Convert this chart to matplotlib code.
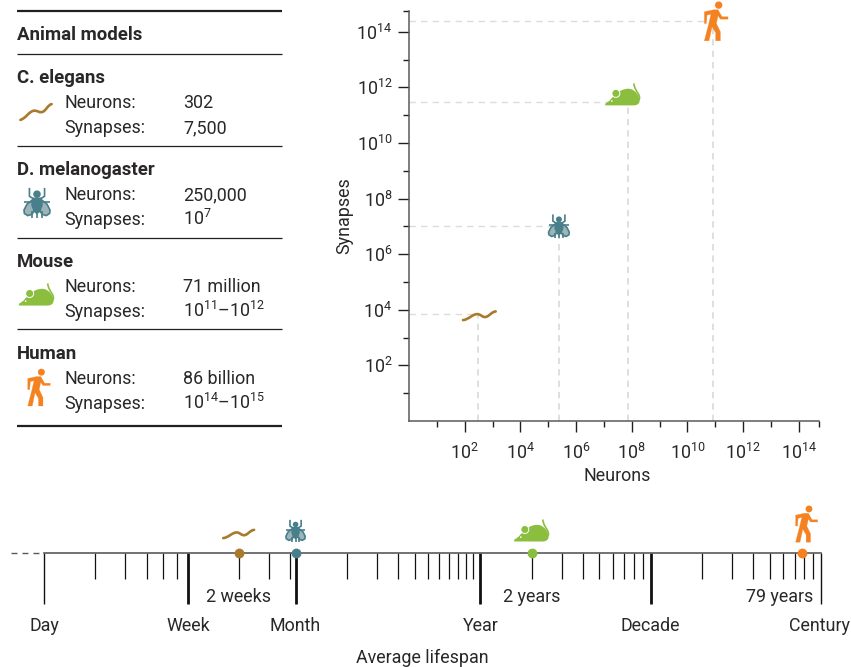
import numpy as np
import matplotlib
matplotlib.use("Agg")
import matplotlib.pyplot as plt
from matplotlib.path import Path
from matplotlib.patches import PathPatch, Circle, Polygon
from matplotlib.transforms import Affine2D, ScaledTranslation

FONT = 'Roboto'
plt.rcParams['font.family'] = [FONT, 'Liberation Sans', 'DejaVu Sans']
plt.rcParams['mathtext.fontset'] = 'custom'
plt.rcParams['mathtext.rm'] = FONT
plt.rcParams['mathtext.it'] = FONT
plt.rcParams['mathtext.bf'] = FONT
plt.rcParams['mathtext.default'] = 'regular'

# ---------- data ----------
species = ['C. elegans', 'D. melanogaster', 'Mouse', 'Human']
icon_kinds = ['worm', 'fly', 'mouse', 'human']
neuron_labels = ['302', '250,000', '71 million', '86 billion']
synapse_labels = ['7,500', '$10^{7}$', '$10^{11}$–$10^{12}$', '$10^{14}$–$10^{15}$']
neurons = [302, 2.5e5, 7.1e7, 8.6e10]
synapses = [6800, 1.05e7, 2.95e11, 2.4e14]
lifespan_days = [13.9, 30, 730, 28400]
lifespan_notes = ['2 weeks', '2 years', '79 years']
major_exp = [2, 4, 6, 8, 10, 12, 14]
minor_exp = [1, 3, 5, 7, 9, 11, 13]
x_end_exp = 14.73
y_end_exp = 14.755
time_names = ['Day', 'Week', 'Month', 'Year', 'Decade', 'Century']
time_days = [1, 7, 30, 365, 3650, 36500]
time_minor = [2, 3, 4, 5, 6, 14, 21, 28, 60, 90, 120, 150, 180, 210, 240, 270, 300, 330,
              730, 1095, 1460, 1825, 2190, 2555, 2920, 3285,
              7300, 10950, 14600, 18250, 21900, 25550, 29200, 32850]
colors = {'worm': '#A97A2C', 'fly': '#487F8B', 'mouse': '#8BBD3F', 'human': '#F58220'}

INK = '#2A2728'
GREY = '#5A5A5A'
DASH = '#DCDCDC'
FS = 12.9
FSB = 13.4
W, H = 851, 667
fig = plt.figure(figsize=(W / 100, H / 100), dpi=100, facecolor='white')

def px_axes(l, t, r, b, **kw):
    return fig.add_axes([l / W, 1 - b / H, (r - l) / W, (b - t) / H], **kw)

# ---------- icons, local outline units with y pointing down ----------
BBOX = {'human': (492, 5, 563, 122), 'mouse': (195, 250, 300, 316),
        'fly': (444, 43, 508, 115), 'worm': (192, 332, 290, 362)}

def place(ax, kind, base, s=1 / 3, rot=0, local=None, dx=0, dy=0):
    b = BBOX[kind]
    lx, ly = local if local else ((b[0] + b[2]) / 2, (b[1] + b[3]) / 2)
    tr = (Affine2D().translate(-lx, -ly).scale(s, -s).rotate_deg(rot).translate(dx, dy) + base)
    c = colors[kind]
    def add(p):
        p.set_transform(tr); p.set_clip_on(False); p.set_zorder(5); ax.add_patch(p)
    M, C, L, Z = Path.MOVETO, Path.CURVE4, Path.LINETO, Path.CLOSEPOLY
    if kind == 'human':
        add(Circle((535, 15), 11, fc=c, ec='none'))
        add(Polygon([(492, 35), (520, 29), (533, 29), (545, 50), (563, 50), (563, 57), (540, 57),
                     (533, 47), (528, 70), (540, 95), (540, 122), (526, 122), (526, 98), (515, 80),
                     (506, 122), (492, 122), (505, 72), (512, 42), (500, 45), (498, 70), (492, 70)],
                    fc=c, ec=c, lw=0.2, joinstyle='miter'))
    elif kind == 'mouse':
        body = Path([(195, 316), (195, 311), (208, 302),
                     (222, 285), (240, 266), (265, 266),
                     (285, 266), (300, 290), (298, 305),
                     (296, 312), (290, 316), (280, 316),
                     (195, 316), (195, 316)],
                    [M, L, L, C, C, C, C, C, C, C, C, C, L, Z])
        add(PathPatch(body, fc=c, ec='none'))
        tail = Path([(296, 300), (305, 285), (283, 275), (281, 250)], [M, C, C, C])
        add(PathPatch(tail, fc='none', ec=c, lw=1.2))
        add(Circle((227, 280), 12, fc=c, ec='white', lw=0.7))
        add(Circle((215, 303), 2.5, fc='white', ec='none'))
    elif kind == 'fly':
        for sgn in (-1, 1):
            X = lambda v: 476 + sgn * v
            add(Polygon([(X(9), 70), (X(24), 82), (X(31), 96), (X(30), 104), (X(22), 109),
                         (X(12), 106), (X(4), 92)],
                        fc='#9DB4B9', ec=c, lw=1.2))
            for seg in ([(18, 43), (18, 63), (7, 70)], [(30, 76), (8, 76)],
                        [(12, 98), (12, 115)]):
                add(Polygon([(X(a), b_) for a, b_ in seg], closed=False, fc='none', ec=c, lw=1.2))
        add(Circle((476, 58), 9, fc=c, ec='none'))
        add(Polygon([(465, 66), (487, 66), (490, 84), (484, 100), (476, 106), (468, 100), (462, 84)],
                    fc=c, ec='none'))
        add(Polygon([(476, 100), (476, 115)], closed=False, fc='none', ec=c, lw=1.2))
    else:
        p = Path([(192, 360), (210, 358), (220, 342), (235, 342),
                  (248, 343), (250, 354), (262, 350),
                  (272, 347), (278, 335), (290, 334)], [M, C, C, C, C, C, C, C, C, C])
        add(PathPatch(p, fc='none', ec=c, lw=1.9, capstyle='round'))

# ---------- full-figure layer: the table ----------
bg = px_axes(0, 0, W, H)
bg.set_xlim(0, W); bg.set_ylim(H, 0); bg.axis('off')
BOLD = dict(fontsize=FSB, fontweight='bold', color=INK, va='baseline', ha='left')
TXT = dict(fontsize=FS, color=INK, va='baseline', ha='left')
bg.hlines([11, 426], 17, 282, color='#231F20', lw=1.6)
bg.hlines([54, 146, 237.5, 329], 17, 282, color='#231F20', lw=0.9)
bg.text(17, 40, 'Animal models', **BOLD)
row_y = [76, 168, 260, 352]
table_icon = [dict(s=0.345, rot=12), dict(s=0.42), dict(s=0.335), dict(s=0.316)]
table_pos = [(36, 112), (37, 203), (36.5, 294.5), (39, 387.5)]
for name, kind, nl, sl, y0, ic, pos in zip(species, icon_kinds, neuron_labels, synapse_labels,
                                          row_y, table_icon, table_pos):
    bg.text(17, y0 + 6.7, name, **BOLD)
    bg.text(65, y0 + 32, 'Neurons:', **TXT)
    bg.text(64.5, y0 + 57.3, 'Synapses:', **TXT)
    bg.text(183, y0 + 32, nl, **TXT)
    bg.text(183, y0 + 57.3, sl, **TXT)
    place(bg, kind, ScaledTranslation(pos[0], pos[1], bg.transData), **ic)
bg.plot([11, 40], [553, 553], color=GREY, lw=1.0, dashes=(4.3, 3.6), clip_on=False)

# ---------- scatter ----------
ax = px_axes(409, 10.7, 819, 421)
ax.set_xscale('log'); ax.set_yscale('log')
ax.set_xlim(1, 10 ** x_end_exp)
ax.set_ylim(1, 10 ** y_end_exp)
ax.patch.set_alpha(0)
for s in ('top', 'right'):
    ax.spines[s].set_visible(False)
for s in ('left', 'bottom'):
    ax.spines[s].set_color(GREY); ax.spines[s].set_linewidth(1.1)
ax.set_xticks([10.0 ** e for e in major_exp])
ax.set_xticklabels([f'$10^{{{e}}}$' for e in major_exp], fontsize=FS, color=INK)
ax.set_xticks([10.0 ** e for e in minor_exp] + [10 ** x_end_exp], minor=True)
ax.set_xticklabels([], minor=True)
ax.set_yticks([10.0 ** e for e in major_exp])
ax.set_yticklabels([f'$10^{{{e}}}$' for e in major_exp], fontsize=FS, color=INK)
ax.set_yticks([10.0 ** e for e in minor_exp] + [10 ** y_end_exp], minor=True)
ax.set_yticklabels([], minor=True)
ax.tick_params(which='major', length=7.7, width=1.0, color='#231F20')
ax.tick_params(which='minor', length=4.1, width=1.0, color='#231F20')
ax.tick_params(axis='x', which='major', pad=19.9)
ax.tick_params(axis='y', which='major', pad=4.3)
for lab in ax.get_xticklabels():
    lab.set_va('baseline')
ax.set_xlabel('Neurons', fontsize=FS, color=INK, va='center')
ax.xaxis.set_label_coords(0.507, -55 / 410.3)
ax.set_ylabel('Synapses', fontsize=FS, color=INK, va='center')
ax.yaxis.set_label_coords(-65 / 410, 0.5)
for kind, nx, sy in zip(icon_kinds, neurons, synapses):
    ax.plot([1, nx], [sy, sy], color=DASH, lw=1.0, dashes=(4.6, 3.7), zorder=1)
    ax.plot([nx, nx], [1, sy], color=DASH, lw=1.3, dashes=(3.5, 2.8), zorder=1)
LOCAL = {'human': (519, 63), 'mouse': (262, 306), 'fly': (477, 77), 'worm': (237, 343)}
for kind, nx, sy in zip(icon_kinds, neurons, synapses):
    place(ax, kind, ScaledTranslation(nx, sy, ax.transData), local=LOCAL[kind])

# ---------- timeline ----------
tl = px_axes(44, 500, 821, 553)
tl.set_xscale('log'); tl.set_xlim(1, 36500); tl.set_ylim(0, 1)
tl.patch.set_alpha(0)
for s in ('top', 'right', 'left'):
    tl.spines[s].set_visible(False)
tl.spines['bottom'].set_color(GREY); tl.spines['bottom'].set_linewidth(1.2)
tl.set_yticks([])
tl.set_xticks(time_days); tl.set_xticklabels(time_names, fontsize=FS, color=INK)
tl.set_xticks(time_minor, minor=True); tl.set_xticklabels([], minor=True)
tl.tick_params(which='major', length=36.4, width=2.0, color='#111111', pad=19.5)
tl.tick_params(which='minor', length=18.5, width=0.9, color='#111111')
for lab in tl.get_xticklabels():
    lab.set_va('baseline')
tl.get_xticklabels()[-1].set_ha('right')
tl.get_xticklabels()[-1].set_transform(
    tl.get_xticklabels()[-1].get_transform() + Affine2D().translate(29, 0))
for i, t in enumerate(tl.xaxis.get_major_ticks()):
    if i in (0, len(time_days) - 1):
        t.tick1line.set_markeredgewidth(1.0)
        t.tick1line.set_color(GREY)
tl.set_xlabel('Average lifespan', fontsize=FS, color=INK, va='baseline')
tl.xaxis.set_label_coords(378 / 777, -110 / 53)
for kind, d in zip(icon_kinds, lifespan_days):
    tl.scatter([d], [0], s=50, color=colors[kind], zorder=6, clip_on=False, linewidths=0)
timeline_icon = {'worm': dict(s=0.315, dx=0, dy=19), 'fly': dict(s=0.31, dx=0, dy=22),
                 'mouse': dict(s=0.333, dx=0, dy=22.5), 'human': dict(s=0.31, dx=4.2, dy=29)}
for kind, d in zip(icon_kinds, lifespan_days):
    place(tl, kind, ScaledTranslation(d, 0, tl.transData), **timeline_icon[kind])
note_days = [lifespan_days[0], lifespan_days[2], 20900]
for note, d in zip(lifespan_notes, note_days):
    tl.annotate(note, (d, 0), xytext=(0, -48.7), textcoords='offset pixels', ha='center', va='baseline',
                fontsize=FS, color=INK, annotation_clip=False)

fig.savefig('out.png', dpi=100)
